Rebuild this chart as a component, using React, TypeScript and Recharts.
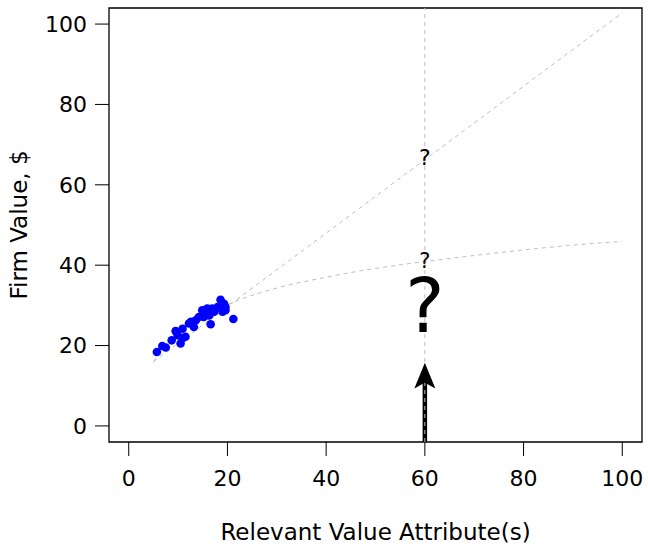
import {
  ComposedChart,
  Scatter,
  Line,
  XAxis,
  YAxis,
  ReferenceLine,
  ReferenceArea,
  ReferenceDot,
  Label,
} from "recharts";

// observed firms: attribute (x) vs firm value (y)
const firmX = [
  5.7, 6.8, 7.5, 8.7, 9.5, 10.5, 10.9, 11.5, 10.9, 12.2, 13.2, 13.6, 14.2, 14.9, 15.6,
  16.3, 16.6, 16.9, 17.3, 18.6, 19.3, 19.0, 19.6, 21.2, 15.2, 18.0, 9.9, 12.6, 15.9, 19.6,
];
const firmY = [
  18.4, 19.9, 19.5, 21.3, 23.6, 20.5, 21.8, 22.2, 24.2, 25.5, 24.6, 26.3, 27.1, 28.8, 28.0,
  27.5, 25.3, 29.2, 28.4, 31.4, 30.4, 28.4, 28.8, 26.6, 27.1, 29.6, 22.6, 25.9, 29.2, 29.6,
];

// straight extrapolation
const linX = [5, 100];
const linY = [16, 102.8];

// concave extrapolation
const curveX = [5, 10, 20, 30, 40, 50, 60, 70, 80, 90, 100];
const curveY = [16, 23.5, 30.2, 34.3, 37.0, 39.2, 40.9, 42.4, 43.8, 45.0, 45.9];

// arrow at the target attribute
const targetX = 60;
const arrowTop = 15.2;
const arrowBase = -4;

const xTicks = [0, 20, 40, 60, 80, 100];
const yTicks = [0, 20, 40, 60, 80, 100];

const FONT = "'DejaVu Sans', sans-serif";
const GREY = "#bebebe";

const firms = firmX.map((x, i) => ({ x, y: firmY[i] }));
const linear = linX.map((x, i) => ({ x, y: linY[i] }));
const curve = curveX.map((x, i) => ({ x, y: curveY[i] }));
const shaft = [
  { x: targetX, y: arrowBase },
  { x: targetX, y: arrowTop - 2 },
];
const tip = [{ x: targetX, y: arrowTop }];

function qmark(size: number) {
  return (props: any) => {
    const vb = props.viewBox || {};
    const cx = vb.x + (vb.width || 0) / 2;
    const cy = vb.y + (vb.height || 0) / 2;
    return (
      <text x={cx} y={cy} textAnchor="middle" fontSize={size} fontFamily={FONT} fill="#000">
        ?
      </text>
    );
  };
}

function ArrowHead(p: any) {
  const { cx, cy } = p;
  return (
    <path
      d={`M${cx},${cy} L${cx + 9},${cy + 22} L${cx},${cy + 17} L${cx - 9},${cy + 22} Z`}
      fill="#000"
      stroke="#000"
      strokeWidth={1.5}
      strokeLinejoin="miter"
    />
  );
}

export default function App() {
  return (
    <div style={{ position: "absolute", left: 0, top: 0, fontFamily: FONT }}>
      <ComposedChart
        width={648}
        height={545}
        margin={{ top: 8, right: 6, left: 0, bottom: 0 }}
      >
        <XAxis
          type="number"
          dataKey="x"
          domain={[-4, 104]}
          ticks={xTicks}
          allowDataOverflow
          axisLine={false}
          tickSize={14}
          tickMargin={14}
          height={103}
          tickLine={{ stroke: "#000" }}
          tick={{ fill: "#000", fontSize: 22, fontFamily: FONT }}
        >
          <Label
            content={(props: any) => {
              const vb = props.viewBox || {};
              return (
                <text
                  x={vb.x + vb.width / 2}
                  y={540}
                  textAnchor="middle"
                  fontSize={23}
                  fontFamily={FONT}
                  fill="#000"
                >
                  Relevant Value Attribute(s)
                </text>
              );
            }}
          />
        </XAxis>
        <YAxis
          type="number"
          dataKey="y"
          domain={[-4, 104]}
          ticks={yTicks}
          allowDataOverflow
          axisLine={false}
          tickSize={14}
          tickMargin={8}
          width={109}
          tickLine={{ stroke: "#000" }}
          tick={{ fill: "#000", fontSize: 22, fontFamily: FONT }}
        >
          <Label
            content={(props: any) => {
              const vb = props.viewBox || {};
              const cy = vb.y + vb.height / 2;
              return (
                <text
                  x={27}
                  y={cy}
                  transform={`rotate(-90, 27, ${cy})`}
                  textAnchor="middle"
                  fontSize={23}
                  fontFamily={FONT}
                  fill="#000"
                >
                  Firm Value, $
                </text>
              );
            }}
          />
        </YAxis>

        <Line
          data={shaft}
          dataKey="y"
          stroke="#000"
          strokeWidth={4.5}
          dot={false}
          isAnimationActive={false}
        />
        <Scatter data={tip} isAnimationActive={false} shape={ArrowHead} />
        <Line
          data={linear}
          dataKey="y"
          type="linear"
          stroke={GREY}
          strokeDasharray="4 4"
          dot={false}
          isAnimationActive={false}
        />
        <Line
          data={curve}
          dataKey="y"
          type="monotone"
          stroke={GREY}
          strokeDasharray="4 4"
          dot={false}
          isAnimationActive={false}
        />
        <ReferenceLine x={targetX} stroke={GREY} strokeDasharray="4 4" />
        <Scatter
          data={firms}
          isAnimationActive={false}
          shape={(p: any) => <circle cx={p.cx} cy={p.cy} r={4.3} fill="#0000ff" />}
        />
        <ReferenceDot x={targetX} y={64.9} r={0} fill="none" stroke="none" label={{ content: qmark(22) }} />
        <ReferenceDot x={targetX} y={39.3} r={0} fill="none" stroke="none" label={{ content: qmark(21) }} />
        <ReferenceDot x={targetX} y={23.4} r={0} fill="none" stroke="none" label={{ content: qmark(74) }} />
        <ReferenceArea
          x1={-4}
          x2={104}
          y1={-4}
          y2={104}
          fill="none"
          stroke="#000"
          strokeWidth={1.3}
          ifOverflow="visible"
        />
      </ComposedChart>
    </div>
  );
}
